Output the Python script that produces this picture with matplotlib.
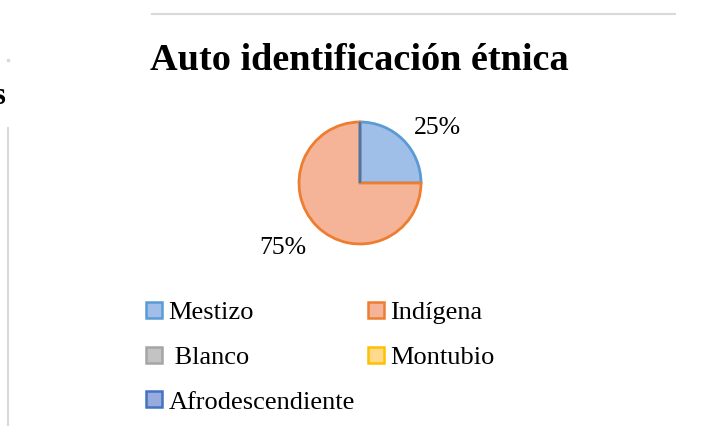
import matplotlib.pyplot as plt
from matplotlib.lines import Line2D

# data
categories = ['Mestizo', 'Indígena', ' Blanco', 'Montubio', 'Afrodescendiente']
values = [25, 75, 0, 0, 0]
face_colors = ['#9fbfe8', '#f5b497', '#c3c3c3', '#ffd98c', '#97abdc']
edge_colors = ['#5b9bd5', '#ed7d31', '#a5a5a5', '#ffc000', '#4472c4']
title = 'Auto identificación étnica'

W, H = 701, 426
fig = plt.figure(figsize=(W / 100, H / 100), dpi=100)
plt.rcParams['font.family'] = ['Liberation Serif', 'DejaVu Serif']

# pie axes: centre (360, 183) px, radius 61 px
cx, cy, r = 360, 183, 61
lim = 1.25
side = 2 * lim * r
ax = fig.add_axes([(cx - side / 2) / W, 1 - (cy + side / 2) / H, side / W, side / H])


def pct_label(p):
    return f'{p:.0f}%' if p > 0 else ''


wedges, texts, autotexts = ax.pie(
    values, colors=face_colors, startangle=90, counterclock=False,
    autopct=pct_label, pctdistance=1.6,
    wedgeprops=dict(linewidth=2, edgecolor='white'),
    textprops=dict(fontsize=18.5))
for w, ec in zip(wedges, edge_colors):
    w.set_edgecolor(ec)
ax.set_xlim(-lim, lim)
ax.set_ylim(-lim, lim)
ax.set_aspect('equal')

# nudge pct labels like the excel best-fit placement
autotexts[0].set_position((1.27, 0.9))
autotexts[1].set_position((-1.27, -1.07))

fig.text(150 / W, 1 - 61 / H, title, fontsize=27.5, fontweight='bold',
         ha='left', va='center')

# legend, row-major order like the original
order = [0, 2, 4, 1, 3]
handles = [Line2D([], [], marker='s', linestyle='none', markersize=11,
                  markerfacecolor=face_colors[i], markeredgecolor=edge_colors[i],
                  markeredgewidth=1.8) for i in order]
labels = [categories[i] for i in order]
fig.legend(handles, labels, ncol=2, frameon=False, fontsize=19,
           loc='upper left', bbox_to_anchor=(146 / W, 1 - 301 / H),
           handlelength=0.6, handletextpad=0.25, labelspacing=0.8,
           columnspacing=0.5, borderpad=0, borderaxespad=0)

# bits of the neighbouring charts cut off at the edges
fig.add_artist(Line2D([152 / W, 675 / W], [1 - 14 / H, 1 - 14 / H],
                      color='#d9d9d9', linewidth=1.5))
fig.add_artist(Line2D([8 / W, 8 / W], [1 - 128 / H, 0],
                      color='#d9d9d9', linewidth=1.5))
fig.add_artist(Line2D([8 / W], [1 - 60 / H], marker='s', markersize=1.5,
                      color='#d9d9d9', linestyle='none'))
fig.text(5 / W, 1 - 97 / H, 's', fontsize=22, fontweight='bold',
         ha='right', va='center')

fig.savefig('out.png', dpi=100)
